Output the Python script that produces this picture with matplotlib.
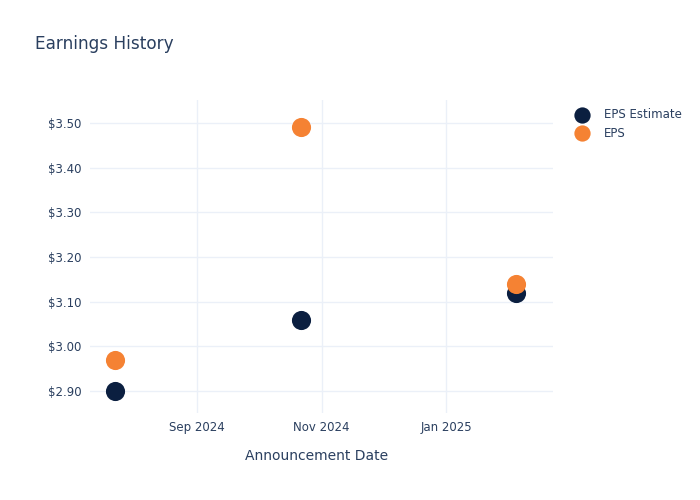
import numpy as np
import pandas as pd
import matplotlib
matplotlib.use('Agg')
from matplotlib import pyplot as plt
import matplotlib.dates as mdates
from matplotlib.ticker import FuncFormatter

# announcement dates and eps values
dates = pd.to_datetime(['2024-07-23', '2024-10-22', '2025-02-04'])
eps_estimate = [2.90, 3.06, 3.12]
eps_actual = [2.97, 3.49, 3.14]
series_names = ['EPS Estimate', 'EPS']

navy = '#0b1f40'
orange = '#f58233'
text_col = '#2a3f5f'
grid_col = '#ebf0f8'

fig = plt.figure(figsize=(7, 5), dpi=100)
ax = fig.add_axes([90 / 700, 1 - 413 / 500, (553 - 90) / 700, (413 - 100) / 500])

ax.scatter(dates, eps_estimate, s=190, color=navy, zorder=3, label=series_names[0], linewidths=0)
ax.scatter(dates, eps_actual, s=190, color=orange, zorder=4, label=series_names[1], linewidths=0)

# axis ranges
ax.set_xlim(pd.Timestamp('2024-07-11'), pd.Timestamp('2025-02-22'))
ax.set_ylim(2.8507, 3.5515)

ax.xaxis.set_major_locator(mdates.MonthLocator(bymonth=[1, 9, 11]))
ax.xaxis.set_major_formatter(mdates.DateFormatter('%b %Y'))
ax.set_yticks([2.9, 3.0, 3.1, 3.2, 3.3, 3.4, 3.5])
ax.yaxis.set_major_formatter(FuncFormatter(lambda v, p: '${:.2f}'.format(v)))

ax.grid(True, color=grid_col, linewidth=1)
ax.set_axisbelow(True)
for sp in ax.spines.values():
	sp.set_visible(False)
ax.tick_params(length=0, labelsize=8.5, colors=text_col, pad=6)
ax.tick_params(axis='x', pad=6)

ax.set_xlabel('Announcement Date', fontsize=10, color=text_col)
ax.xaxis.set_label_coords(0.49, -0.115)
fig.text(35 / 700, 1 - 44 / 500, 'Earnings History', fontsize=12.2, color=text_col, va='center', ha='left')

leg = ax.legend(loc='upper left', bbox_to_anchor=(1.02, 1.0), frameon=False, fontsize=8.5,
				handletextpad=0.8, labelspacing=0.45, borderaxespad=0.3, markerscale=0.85)
for t in leg.get_texts():
	t.set_color(text_col)

fig.savefig('out.png', dpi=100)
